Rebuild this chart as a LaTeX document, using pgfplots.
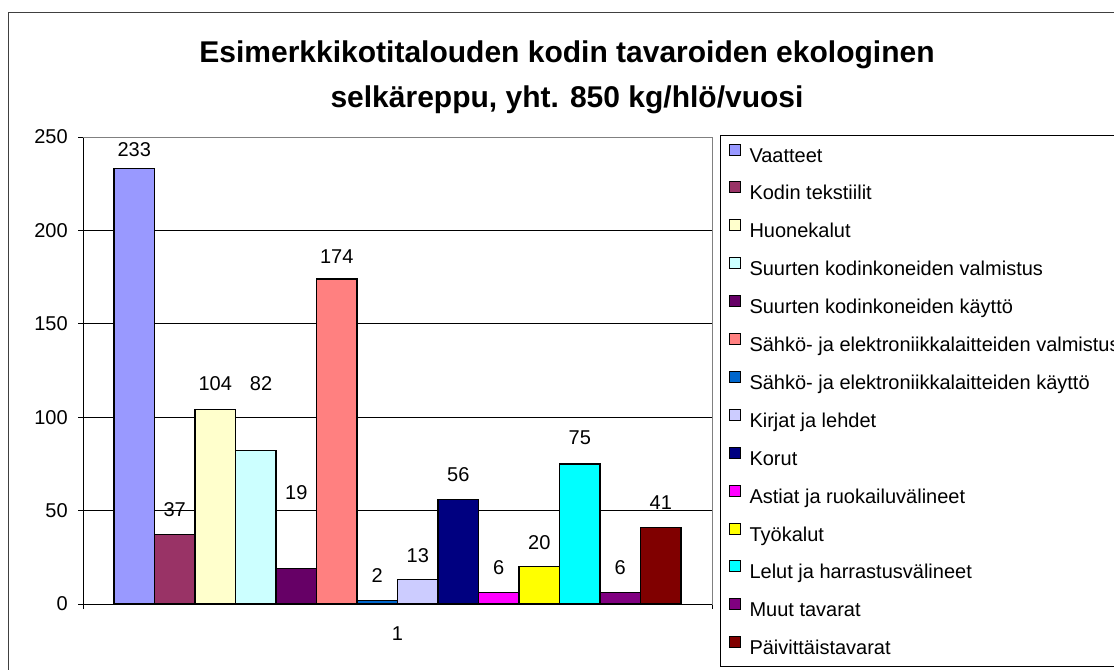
\documentclass[border=0pt]{standalone}
\usepackage{fontspec}
\setmainfont{Liberation Sans}
\usepackage{pgfplots}
\pgfplotsset{compat=1.18}
\definecolor{c1}{HTML}{9999FF}
\definecolor{c2}{HTML}{993366}
\definecolor{c3}{HTML}{FFFFCC}
\definecolor{c4}{HTML}{CCFFFF}
\definecolor{c5}{HTML}{660066}
\definecolor{c6}{HTML}{FF8080}
\definecolor{c7}{HTML}{0066CC}
\definecolor{c8}{HTML}{CCCCFF}
\definecolor{c9}{HTML}{000080}
\definecolor{c10}{HTML}{FF00FF}
\definecolor{c11}{HTML}{FFFF00}
\definecolor{c12}{HTML}{00FFFF}
\definecolor{c13}{HTML}{800080}
\definecolor{c14}{HTML}{800000}
\newcommand\sm{\fontsize{15}{18}\selectfont}
\begin{document}
\begin{tikzpicture}
\useasboundingbox (0,0) rectangle (835.5pt,501.75pt);
\clip (0,0) rectangle (835.5pt,501.75pt);
\draw[black!75, line width=0.75pt] (6.5pt,-5pt) rectangle (850pt,492pt);
\node[anchor=base, inner sep=0pt, font=\fontsize{22.5}{27}\selectfont\bfseries] at (425.25pt,454.7pt) {Esimerkkikotitalouden kodin tavaroiden ekologinen};
\node[anchor=base, inner sep=0pt, font=\fontsize{22.5}{27}\selectfont\bfseries] at (425.25pt,421pt) {selkäreppu, yht. 850 kg/hlö/vuosi};
\begin{axis}[
  at={(62.25pt,48.75pt)}, anchor=south west,
  scale only axis, width=471.75pt, height=350.25pt,
  xmin=0.5, xmax=1.5, ymin=0, ymax=250,
  ybar=0pt, bar width=30.375pt,
  clip=false,
  /pgf/number format/assume math mode=true,
  axis line style={draw=gray, line width=0.75pt},
  tick align=outside, tick pos=left,
  tick style={black, line width=0.75pt},
  major tick length=3.75pt,
  ytick={0,50,...,250},
  ymajorgrids, grid style={black, line width=0.75pt},
  xtick={0.5,1.5}, xticklabels={,},
  extra x ticks={1}, extra x tick labels={1},
  extra x tick style={major tick length=0pt, xticklabel style={inner sep=0pt, yshift=-16.5pt}},
  yticklabel style={font=\sm, inner sep=0pt, xshift=-7.5pt},
  ticklabel style={font=\sm},
  nodes near coords,
  nodes near coords style={font=\sm, anchor=center, inner sep=0pt, black},
  every axis plot post/.append style={draw=black, line width=0.9pt,
    legend image code/.code={\draw[##1, line width=0.75pt] (0pt,0.3pt) rectangle (8.25pt,8.55pt);}},
  legend cell align=left,
  legend style={at={(1.01272,1.00428)}, anchor=north west, draw=black, line width=0.75pt,
    inner xsep=6pt, inner ysep=6pt, row sep=11.5pt, column sep=6.75pt,
    font=\sm,
    nodes={inner xsep=0pt, inner ysep=0pt, text height=13pt, text depth=3pt}},
]
\addplot[fill=c1, nodes near coords style={yshift=14.1pt}] coordinates {(1,233)};
\addlegendentry{Vaatteet}
\addplot[fill=c2, nodes near coords style={yshift=18.7pt}] coordinates {(1,37)};
\addlegendentry{Kodin tekstiilit}
\addplot[fill=c3, nodes near coords style={yshift=19.3pt}] coordinates {(1,104)};
\addlegendentry{Huonekalut}
\addplot[fill=c4, nodes near coords style={yshift=50.1pt, xshift=4pt}] coordinates {(1,82)};
\addlegendentry{Suurten kodinkoneiden valmistus}
\addplot[fill=c5, nodes near coords style={yshift=56.6pt}] coordinates {(1,19)};
\addlegendentry{Suurten kodinkoneiden käyttö}
\addplot[fill=c6, nodes near coords style={yshift=16.5pt}] coordinates {(1,174)};
\addlegendentry{Sähkö- ja elektroniikkalaitteiden valmistus}
\addplot[fill=c7, nodes near coords style={yshift=18.2pt}] coordinates {(1,2)};
\addlegendentry{Sähkö- ja elektroniikkalaitteiden käyttö}
\addplot[fill=c8, nodes near coords style={yshift=17.8pt}] coordinates {(1,13)};
\addlegendentry{Kirjat ja lehdet}
\addplot[fill=c9, nodes near coords style={yshift=18.3pt}] coordinates {(1,56)};
\addlegendentry{Korut}
\addplot[fill=c10, nodes near coords style={yshift=18.6pt}] coordinates {(1,6)};
\addlegendentry{Astiat ja ruokailuvälineet}
\addplot[fill=c11, nodes near coords style={yshift=17.7pt}] coordinates {(1,20)};
\addlegendentry{Työkalut}
\addplot[fill=c12, nodes near coords style={yshift=19.4pt}] coordinates {(1,75)};
\addlegendentry{Lelut ja harrastusvälineet}
\addplot[fill=c13, nodes near coords style={yshift=18.6pt}] coordinates {(1,6)};
\addlegendentry{Muut tavarat}
\addplot[fill=c14, nodes near coords style={yshift=18.3pt}] coordinates {(1,41)};
\addlegendentry{Päivittäistavarat}
\draw[black, line width=0.75pt] (rel axis cs:0,1) -- (rel axis cs:0,0) -- (rel axis cs:1,0);
\draw[gray, line width=0.75pt] (rel axis cs:0,1) -- (rel axis cs:1,1) -- (rel axis cs:1,0);
\end{axis}
\end{tikzpicture}
\end{document}
